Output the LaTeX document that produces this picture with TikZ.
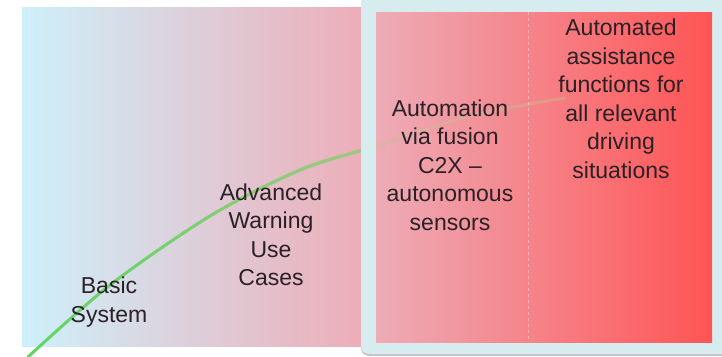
\documentclass[tikz,border=0pt]{standalone}
\usepackage{fontspec}
\setmainfont{Liberation Sans}
\usepackage{tikz}
\usetikzlibrary{fadings}
\newcommand{\gauche}{22}
\newcommand{\haut}{7}
\newcommand{\bas}{346}
\newcommand{\taillepolice}{\fontsize{23pt}{28.5pt}\selectfont}
\definecolor{cyanfond}{RGB}{206,240,251}
\definecolor{mauvefond}{RGB}{226,226,236}
\definecolor{rosefond}{RGB}{237,172,183}
\definecolor{rougemilieu}{RGB}{249,128,132}
\definecolor{rougefond}{RGB}{255,84,84}
\definecolor{cadre}{RGB}{214,236,239}
\definecolor{vertcourbe}{RGB}{95,215,100}
\definecolor{olivecourbe}{RGB}{195,192,145}
\definecolor{texte}{RGB}{42,32,38}
\tikzstyle{etape}=[align=center,text=texte,font=\taillepolice,inner sep=0pt]
\tikzstyle{courbe}=[line width=3pt,line cap=round]
\tikzfading[name=fondudroite, left color=transparent!100, right color=transparent!0]

\begin{document}
\begin{tikzpicture}[x=1pt,y=-1pt]
\useasboundingbox (0,0) rectangle (722,356);

% fond degrade
\shade[left color=cyanfond,middle color=mauvefond,right color=rosefond] (\gauche,\haut) rectangle (370,\bas);

% courbe
\draw[courbe,vertcourbe] plot[smooth] coordinates {(28,357) (110,285) (210,216) (300,170) (376,146) (470,116) (565,98)};
\draw[courbe,olivecourbe,path fading=fondudroite] plot[smooth] coordinates {(28,357) (110,285) (210,216) (300,170) (376,146) (470,116) (565,98)};

% cadre
\fill[gray,opacity=.45,rounded corners=8pt] (361,-12) rectangle (732,356);
\fill[cadre,rounded corners=8pt] (361,-12) rectangle (732,354);
\shade[left color=rosefond,middle color=rougemilieu,right color=rougefond] (376,12) rectangle (712,342);

\begin{scope}
\clip (376,12) rectangle (712,342);
\draw[courbe,olivecourbe,opacity=.4] plot[smooth] coordinates {(28,357) (110,285) (210,216) (300,170) (376,146) (470,116) (565,98)};
\end{scope}

\draw[white,opacity=.4,dashed,line width=.8pt] (528,12) -- (528,342);

\node[etape] (basic) at (109,302) {Basic\\System};
\node[etape] (advanced) at (271,235) {Advanced\\Warning\\Use\\Cases};
\node[etape] (fusion) at (450,165) {Automation\\via fusion\\C2X --\\autonomous\\sensors};
\node[etape] (automated) at (621,99) {Automated\\assistance\\functions for\\all relevant\\driving\\situations};

\end{tikzpicture}
\end{document}
